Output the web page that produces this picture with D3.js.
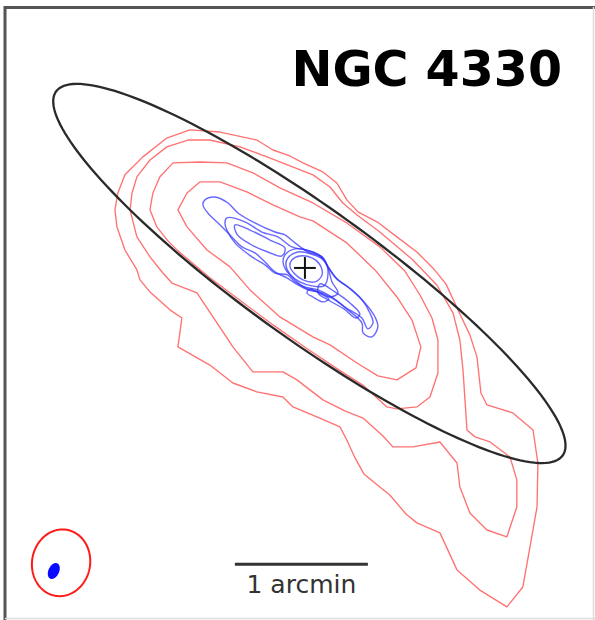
<!DOCTYPE html>
<html>
<head>
<meta charset="utf-8">
<script src="https://cdn.jsdelivr.net/npm/d3@7"></script>
<style>
  html, body { margin: 0; padding: 0; background: #fff; }
  svg { display: block; }
</style>
</head>
<body>
<svg id="chart" width="595" height="620"></svg>
<script>
// Offsets from the optical centre in arcsec: [east, north].
const title = "NGC 4330";
const scaleBarLabel = "1 arcmin";
const scaleBarArcsec = 60;
const scaleBarPos = [1.6, -133.6];      // centre of the bar

// Field of view (arcsec)
const eastRange = [135.3, -130.4];
const northRange = [117.7, -158.8];

// Optical disk ellipse: centre, semi-axes (arcsec), position angle (deg)
const diskCentre = [-2.0, -2.5];
const diskAxes = [140.7, 29.5];
const diskPA = 54.3;

// Beams: centre, semi-major, semi-minor, PA
const beamRadio = { c: [110.0, -133.0], a: 15.1, b: 13.1, pa: -10 };
const beamHI = { c: [113.3, -136.7], a: 3.8, b: 2.4, pa: -25 };

// Radio continuum contours (outer to inner)
const radio1 = [[51.9,62.3],[38.3,61.3],[21.7,57.7],[14.4,53.2],[6.8,50.5],[0.9,47.4],[-8.1,43.3],[-14.4,38.3],[-18.9,30.7],[-23.9,25.3],[-32.5,20.8],[-41.5,14.0],[-50.5,7.2],[-57.7,0],[-63.6,-7.2],[-69.0,-18.9],[-74.4,-30.2],[-77.6,-40.1],[-79.4,-56.4],[-82.1,-61.8],[-93.8,-65.4],[-102.9,-73.1],[-105.1,-88.0],[-104.7,-107.8],[-101.5,-125.9],[-98.3,-143.9],[-91.1,-152.9],[-78.9,-145.3],[-68.6,-136.2],[-60.9,-119.5],[-50.5,-115.0],[-45.6,-111.0],[-38.3,-102.4],[-33.8,-98.8],[-26.6,-92.9],[-22.6,-85.7],[-18.9,-77.6],[-15.8,-71.7],[-5.4,-67.2],[5.4,-62.7],[9.9,-58.2],[21.7,-55.9],[32.5,-51.9],[42.9,-43.8],[57.3,-35.6],[55.5,-22.6],[60.9,-18.9],[69.9,-10.8],[74.4,-5.4],[75.8,-0.9],[81.2,8.1],[84.8,18.5],[85.7,26.2],[84.4,33.8],[81.2,42.0],[73.1,50.1],[62.3,58.6]];
const radio2 = [[52.8,57.7],[42.9,57.7],[29.3,54.6],[17.1,50.1],[9.0,46.9],[-3.6,42.0],[-11.3,36.5],[-17.1,29.3],[-23.5,23.9],[-33.8,16.2],[-48.7,3.6],[-59.5,-7.7],[-66.8,-20.3],[-69.9,-32.5],[-71.3,-46.0],[-72.2,-59.5],[-73.1,-73.1],[-76.7,-76.2],[-83.5,-78.5],[-92.5,-85.3],[-95.6,-95.6],[-95.6,-107.8],[-91.1,-121.3],[-82.1,-118.2],[-74.4,-110.5],[-69.9,-98.8],[-68.6,-88.0],[-60.9,-78.5],[-48.7,-80.7],[-39.7,-80.7],[-35.2,-75.8],[-26.2,-67.7],[-18.0,-64.5],[-8.1,-59.5],[3.6,-50.5],[9.9,-46.9],[23.5,-46.9],[32.5,-35.6],[39.7,-24.8],[48.7,-11.3],[60.0,-6.8],[64.1,-2.3],[69.9,5.0],[75.8,14.0],[78.9,26.2],[78.0,33.8],[75.8,41.1],[69.9,48.7],[62.3,54.6]];
const radio3 = [[59.5,47.4],[47.4,47.8],[35.2,47.4],[23.5,42.9],[11.3,36.1],[-3.6,29.3],[-18.9,20.3],[-33.8,9.5],[-45.1,-1.4],[-51.9,-12.2],[-57.3,-22.6],[-60.0,-32.5],[-60.0,-47.4],[-56.4,-58.2],[-50.5,-62.7],[-41.5,-63.6],[-37.0,-62.7],[-26.6,-53.2],[-15.3,-46.0],[-0.5,-36.1],[14.4,-25.7],[28.9,-14.9],[43.3,-4.1],[57.3,7.7],[61.8,12.2],[66.8,18.5],[69.9,26.2],[68.6,33.8],[65.4,41.1]];
const radio4 = [[47.4,38.8],[38.3,38.8],[26.2,34.3],[14.4,28.4],[2.3,23.0],[-3.6,21.2],[-18.9,11.3],[-31.6,-0.9],[-41.5,-13.1],[-48.3,-23.5],[-52.3,-35.6],[-50.1,-45.1],[-41.5,-50.5],[-32.9,-48.7],[-23.5,-42.9],[-11.3,-34.7],[-3.6,-31.1],[11.3,-22.1],[24.8,-9.9],[33.8,0.5],[44.2,8.1],[53.2,18.5],[57.3,26.2],[53.2,33.8]];

// HI contours
const hi1 = [[45.1,30.7],[40.6,32.0],[34.7,29.3],[30.2,24.8],[22.6,20.3],[13.5,16.2],[9.0,14.9],[4.5,11.3],[-1.4,7.2],[-7.7,5.0],[-10.4,0.5],[-14.9,-5.4],[-21.2,-9.9],[-27.1,-15.8],[-31.6,-22.1],[-32.9,-26.6],[-30.2,-31.1],[-26.2,-29.3],[-25.7,-24.8],[-19.4,-18.9],[-13.5,-14.4],[-7.7,-11.3],[-1.4,-9.9],[3.2,-7.7],[8.1,-4.5],[13.5,-1.8],[18.0,2.7],[22.6,6.8],[28.4,9.5],[34.7,15.8],[39.2,20.3],[43.8,24.8],[46.0,28.4]];
const hi2 = [[35.2,22.6],[27.1,20.8],[19.4,16.2],[12.2,14.0],[5.9,9.5],[0,8.1],[-5.9,5.9],[-9.9,1.4],[-13.5,-4.1],[-19.4,-8.6],[-25.7,-14.4],[-29.3,-20.3],[-30.7,-24.8],[-28.4,-27.5],[-25.7,-22.6],[-18.0,-17.6],[-12.2,-13.1],[-5.9,-9.9],[0,-8.6],[4.5,-6.3],[7.7,-3.2],[13.5,-2.3],[18.0,1.4],[23.9,5.0],[31.6,11.3],[35.2,17.1],[36.1,20.3]];
const hi3 = [[9.0,5.9],[4.5,8.6],[-2.3,7.7],[-7.7,5.0],[-10.4,0],[-12.2,-6.3],[-14.9,-11.3],[-11.3,-13.1],[-5.9,-10.8],[0,-9.0],[4.5,-5.4],[8.6,-0.9],[9.9,2.7]];
const hi4 = [[5.9,3.6],[2.3,5.4],[-3.2,4.5],[-6.8,1.4],[-7.7,-3.2],[-4.5,-6.3],[0.9,-5.4],[5.0,-2.3],[6.8,0.9]];
const hi5 = [[-6.8,-7.2],[-13.5,-10.8],[-20.3,-15.8],[-24.8,-20.8],[-23.0,-22.6],[-17.6,-18.5],[-11.3,-14.9],[-5.9,-11.3]];
const hi6 = [[31.6,19.4],[24.8,17.1],[15.8,12.6],[9.0,9.0],[10.4,5.4],[16.7,7.2],[24.8,10.8],[30.7,15.3]];
const hi7 = [[7.7,4.5],[3.2,7.2],[-2.7,6.3],[-9.0,3.2],[-10.4,-2.7],[-8.6,-8.1],[-3.2,-8.1],[2.3,-6.3],[6.8,-2.7],[8.6,1.4]];
const hi8 = [[-2.3,-9.5],[-7.2,-11.7],[-10.8,-14.0],[-8.1,-15.3],[-3.6,-13.1],[-0.9,-11.3]];

const radioContours = [radio1, radio2, radio3, radio4];
const hiContours = [hi1, hi2, hi3, hi4, hi5, hi6, hi7, hi8];

const svg = d3.select("#chart");
const W = 595, H = 620;

// East is to the left, north is up
const x = d3.scaleLinear().domain(eastRange).range([5, 594]);
const y = d3.scaleLinear().domain(northRange).range([7, 620]);

svg.append("rect").attr("width", W).attr("height", H).attr("fill", "#fff");

const line = d3.line()
  .x(d => x(d[0]))
  .y(d => y(d[1]));

// Radio continuum contours
svg.append("g")
  .selectAll("path")
  .data(radioContours)
  .join("path")
  .attr("d", d => line.curve(d3.curveLinearClosed)(d))
  .attr("fill", "none")
  .attr("stroke", "#ff3c3c")
  .attr("stroke-opacity", 0.72)
  .attr("stroke-width", 1.35)
  .attr("stroke-linejoin", "round");

// HI contours
svg.append("g")
  .selectAll("path")
  .data(hiContours)
  .join("path")
  .attr("d", d => line.curve(d3.curveCatmullRomClosed.alpha(0.5))(d))
  .attr("fill", "none")
  .attr("stroke", "#2f2fff")
  .attr("stroke-opacity", 0.72)
  .attr("stroke-width", 1.4);

// Ellipse outline in sky offsets for a centre, semi-axes and position angle
function ellipsePoints(c, a, b, paDeg, n = 180) {
  const pa = paDeg * Math.PI / 180;
  return d3.range(n).map(i => {
    const t = 2 * Math.PI * i / n;
    const u = a * Math.cos(t), v = b * Math.sin(t);
    return [c[0] + u * Math.sin(pa) + v * Math.cos(pa),
            c[1] + u * Math.cos(pa) - v * Math.sin(pa)];
  });
}

// Optical disk
svg.append("path")
  .attr("d", line.curve(d3.curveLinearClosed)(ellipsePoints(diskCentre, diskAxes[0], diskAxes[1], diskPA)))
  .attr("fill", "none")
  .attr("stroke", "#2a2a2a")
  .attr("stroke-width", 2.3);

// Optical centre
const cross = 4.9;
svg.append("g").selectAll("line")
  .data([[[cross, 0], [-cross, 0]], [[0, cross], [0, -cross]]])
  .join("line")
  .attr("x1", d => x(d[0][0])).attr("y1", d => y(d[0][1]))
  .attr("x2", d => x(d[1][0])).attr("y2", d => y(d[1][1]))
  .attr("stroke", "#111")
  .attr("stroke-width", 2);

// Beams
svg.append("path")
  .attr("d", line.curve(d3.curveLinearClosed)(ellipsePoints(beamRadio.c, beamRadio.a, beamRadio.b, beamRadio.pa)))
  .attr("fill", "none")
  .attr("stroke", "#ff1a1a")
  .attr("stroke-width", 2);
svg.append("path")
  .attr("d", line.curve(d3.curveLinearClosed)(ellipsePoints(beamHI.c, beamHI.a, beamHI.b, beamHI.pa)))
  .attr("fill", "#0a0aff")
  .attr("stroke", "none");

// Scale bar
svg.append("line")
  .attr("x1", x(scaleBarPos[0] + scaleBarArcsec / 2))
  .attr("x2", x(scaleBarPos[0] - scaleBarArcsec / 2))
  .attr("y1", y(scaleBarPos[1])).attr("y2", y(scaleBarPos[1]))
  .attr("stroke", "#333")
  .attr("stroke-width", 3);
svg.append("text")
  .attr("x", x(scaleBarPos[0]))
  .attr("y", y(scaleBarPos[1]) + 29)
  .attr("text-anchor", "middle")
  .attr("font-family", "DejaVu Sans")
  .attr("font-size", 25)
  .attr("fill", "#333")
  .text(scaleBarLabel);

// Title
svg.append("text")
  .attr("x", 562)
  .attr("y", 86)
  .attr("text-anchor", "end")
  .attr("font-family", "DejaVu Sans")
  .attr("font-weight", "bold")
  .attr("font-size", 49)
  .attr("fill", "#000")
  .text(title);

// Frame
svg.append("line").attr("x1", 5).attr("x2", 5).attr("y1", 6).attr("y2", H)
  .attr("stroke", "#555").attr("stroke-width", 3);
svg.append("line").attr("x1", 4).attr("x2", W).attr("y1", 7.5).attr("y2", 7.5)
  .attr("stroke", "#555").attr("stroke-width", 3);
svg.append("line").attr("x1", 593.5).attr("x2", 593.5).attr("y1", 7).attr("y2", H)
  .attr("stroke", "#ddd").attr("stroke-width", 1.5);
svg.append("line").attr("x1", 5).attr("x2", W).attr("y1", 618.5).attr("y2", 618.5)
  .attr("stroke", "#ddd").attr("stroke-width", 1.5);
</script>
</body>
</html>
